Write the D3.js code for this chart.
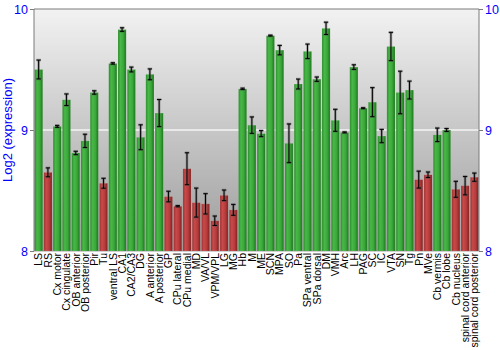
<!DOCTYPE html>
<html>
<head>
<meta charset="utf-8">
<script src="https://cdn.jsdelivr.net/npm/d3@7"></script>
<style>
  html, body { margin: 0; padding: 0; background: #ffffff; }
  svg { display: block; font-family: "Liberation Sans", Arial, sans-serif; }
</style>
</head>
<body>
<svg id="chart" width="500" height="350"></svg>
<script>
// Brain regions
const regions = [
  "LS", "RS", "Cx motor", "Cx cingulate", "OB anterior", "OB posterior", "Pir", "Tu",
  "ventral LS", "CA1", "CA2/CA3", "DG", "A anterior", "A posterior", "GP", "CPu lateral",
  "CPu medial", "MD", "VA/VL", "VPM/VPL", "LG", "MG", "Hb", "M",
  "ME", "SCN", "MPA", "SO", "Pa", "SPa ventral", "SPa dorsal", "DM",
  "VMH", "Arc", "LH", "PAG", "SC", "IC", "VTA", "SN",
  "Tg", "Pn", "MVe", "Cb vermis", "Cb lobe", "Cb nucleus", "spinal cord anterior", "spinal cord posterior"
];

// Mean log2 expression per region
const expression = [
  9.50, 8.65, 9.03, 9.25, 8.81, 8.91, 9.31, 8.56,
  9.55, 9.83, 9.50, 8.94, 9.46, 9.14, 8.45, 8.37,
  8.68, 8.40, 8.39, 8.25, 8.46, 8.34, 9.34, 9.04,
  8.97, 9.78, 9.66, 8.89, 9.38, 9.65, 9.42, 9.84,
  9.08, 8.98, 9.52, 9.18, 9.23, 8.95, 9.69, 9.31,
  9.33, 8.59, 8.63, 8.96, 9.00, 8.51, 8.54, 8.61
];

// Standard error per region
const stderr = [
  0.078, 0.037, 0.008, 0.048, 0.014, 0.055, 0.014, 0.041,
  0.006, 0.015, 0.020, 0.103, 0.045, 0.112, 0.044, 0.005,
  0.132, 0.120, 0.084, 0.039, 0.044, 0.045, 0.006, 0.068,
  0.025, 0.004, 0.039, 0.160, 0.041, 0.060, 0.018, 0.051,
  0.091, 0.004, 0.019, 0.004, 0.120, 0.055, 0.117, 0.176,
  0.074, 0.070, 0.023, 0.056, 0.012, 0.066, 0.076, 0.034
];

// Regions below this level are shown in red
const lowThreshold = 8.75;

const yTicks = [8, 9, 10];

const svg = d3.select("#chart");
const margin = { left: 34, right: 21, top: 9, bottom: 99 };
const W = 500, H = 350;
const x0 = margin.left, x1 = W - margin.right;
const y0 = H - margin.bottom, y1 = margin.top;

const x = d3.scaleBand().domain(regions).range([x0, x1]).paddingInner(0.12).paddingOuter(0.06);
const y = d3.scaleLinear().domain([8, 10]).range([y0, y1]);

const defs = svg.append("defs");

// Panel background: light at the top, darker toward the baseline
const bg = defs.append("linearGradient").attr("id", "bg").attr("x1", 0).attr("y1", 0).attr("x2", 0).attr("y2", 1);
bg.append("stop").attr("offset", "0%").attr("stop-color", "#f2f2f2");
bg.append("stop").attr("offset", "100%").attr("stop-color", "#9c9c9c");

function barGradient(id, stops) {
  const g = defs.append("linearGradient").attr("id", id).attr("x1", 0).attr("y1", 0).attr("x2", 1).attr("y2", 0);
  stops.forEach(([o, c]) => g.append("stop").attr("offset", o).attr("stop-color", c));
}
barGradient("gGreen", [["0%", "#2a8c2a"], ["30%", "#48b848"], ["65%", "#3aa83a"], ["100%", "#1d751d"]]);
barGradient("gRed", [["0%", "#9c3030"], ["30%", "#c84a4a"], ["65%", "#b83c3c"], ["100%", "#7e2020"]]);

svg.append("rect")
  .attr("x", x0).attr("y", y1)
  .attr("width", x1 - x0).attr("height", y0 - y1)
  .attr("fill", "url(#bg)");

// Horizontal grid line
svg.append("g").selectAll("line")
  .data(yTicks.filter(t => t > 8 && t < 10))
  .join("line")
  .attr("x1", x0).attr("x2", x1)
  .attr("y1", d => y(d)).attr("y2", d => y(d))
  .attr("stroke", "#f4f4f4").attr("stroke-width", 1.5);

// Bars
svg.append("g").selectAll("rect")
  .data(regions)
  .join("rect")
  .attr("x", d => x(d))
  .attr("width", x.bandwidth())
  .attr("y", (d, i) => y(expression[i]))
  .attr("height", (d, i) => y0 - y(expression[i]))
  .attr("fill", (d, i) => expression[i] < lowThreshold ? "url(#gRed)" : "url(#gGreen)")
  .attr("stroke", "rgba(255,255,255,0.18)")
  .attr("stroke-width", 0.6);

// Error bars: soft grey halo under a thin black whisker
const err = svg.append("g");
regions.forEach((r, i) => {
  const cx = x(r) + x.bandwidth() / 2;
  const lo = y(expression[i] - stderr[i]);
  const hi = y(expression[i] + stderr[i]);
  const cap = 2.2;
  const halo = err.append("g").attr("stroke", "#555").attr("stroke-opacity", 0.45).attr("stroke-width", 2.6);
  halo.append("line").attr("x1", cx).attr("x2", cx).attr("y1", lo).attr("y2", hi);
  halo.append("line").attr("x1", cx - cap).attr("x2", cx + cap).attr("y1", lo).attr("y2", lo);
  halo.append("line").attr("x1", cx - cap).attr("x2", cx + cap).attr("y1", hi).attr("y2", hi);
  const w = err.append("g").attr("stroke", "#000").attr("stroke-width", 1);
  w.append("line").attr("x1", cx).attr("x2", cx).attr("y1", lo).attr("y2", hi);
  w.append("line").attr("x1", cx - cap).attr("x2", cx + cap).attr("y1", lo).attr("y2", lo);
  w.append("line").attr("x1", cx - cap).attr("x2", cx + cap).attr("y1", hi).attr("y2", hi);
});

// Frame on top, left and right
svg.append("path")
  .attr("d", `M${x0},${y0}V${y1}H${x1}V${y0}`)
  .attr("fill", "none").attr("stroke", "#7a7a7a").attr("stroke-width", 1);
svg.append("line")
  .attr("x1", x0).attr("x2", x1).attr("y1", y0 + 0.5).attr("y2", y0 + 0.5)
  .attr("stroke", "#d0d0d0").attr("stroke-width", 1);

// Y axes on both sides
const left = svg.append("g").attr("transform", `translate(${x0},0)`)
  .call(d3.axisLeft(y).tickValues(yTicks).tickFormat(d3.format("d")).tickSize(4).tickPadding(2));
const right = svg.append("g").attr("transform", `translate(${x1},0)`)
  .call(d3.axisRight(y).tickValues(yTicks).tickFormat(d3.format("d")).tickSize(4).tickPadding(2));
[left, right].forEach(g => {
  g.select(".domain").remove();
  g.selectAll(".tick line").attr("stroke", "#7a7a7a");
  g.selectAll(".tick text")
    .attr("fill", "#0000ff")
    .attr("font-size", 12.5)
    .attr("font-family", "Liberation Sans, Arial, sans-serif");
});

// Y title
svg.append("text")
  .attr("transform", `translate(12,${(y0 + y1) / 2}) rotate(-90)`)
  .attr("text-anchor", "middle")
  .attr("fill", "#0000ff")
  .attr("font-size", 13)
  .text("Log2 (expression)");

// Region labels, vertical
svg.append("g").selectAll("text")
  .data(regions)
  .join("text")
  .attr("transform", d => `translate(${x(d) + x.bandwidth() / 2},${y0 + 2}) rotate(-90)`)
  .attr("text-anchor", "end")
  .attr("dy", "0.36em")
  .attr("font-size", 10.5)
  .attr("fill", "#000")
  .text(d => d);
</script>
</body>
</html>
